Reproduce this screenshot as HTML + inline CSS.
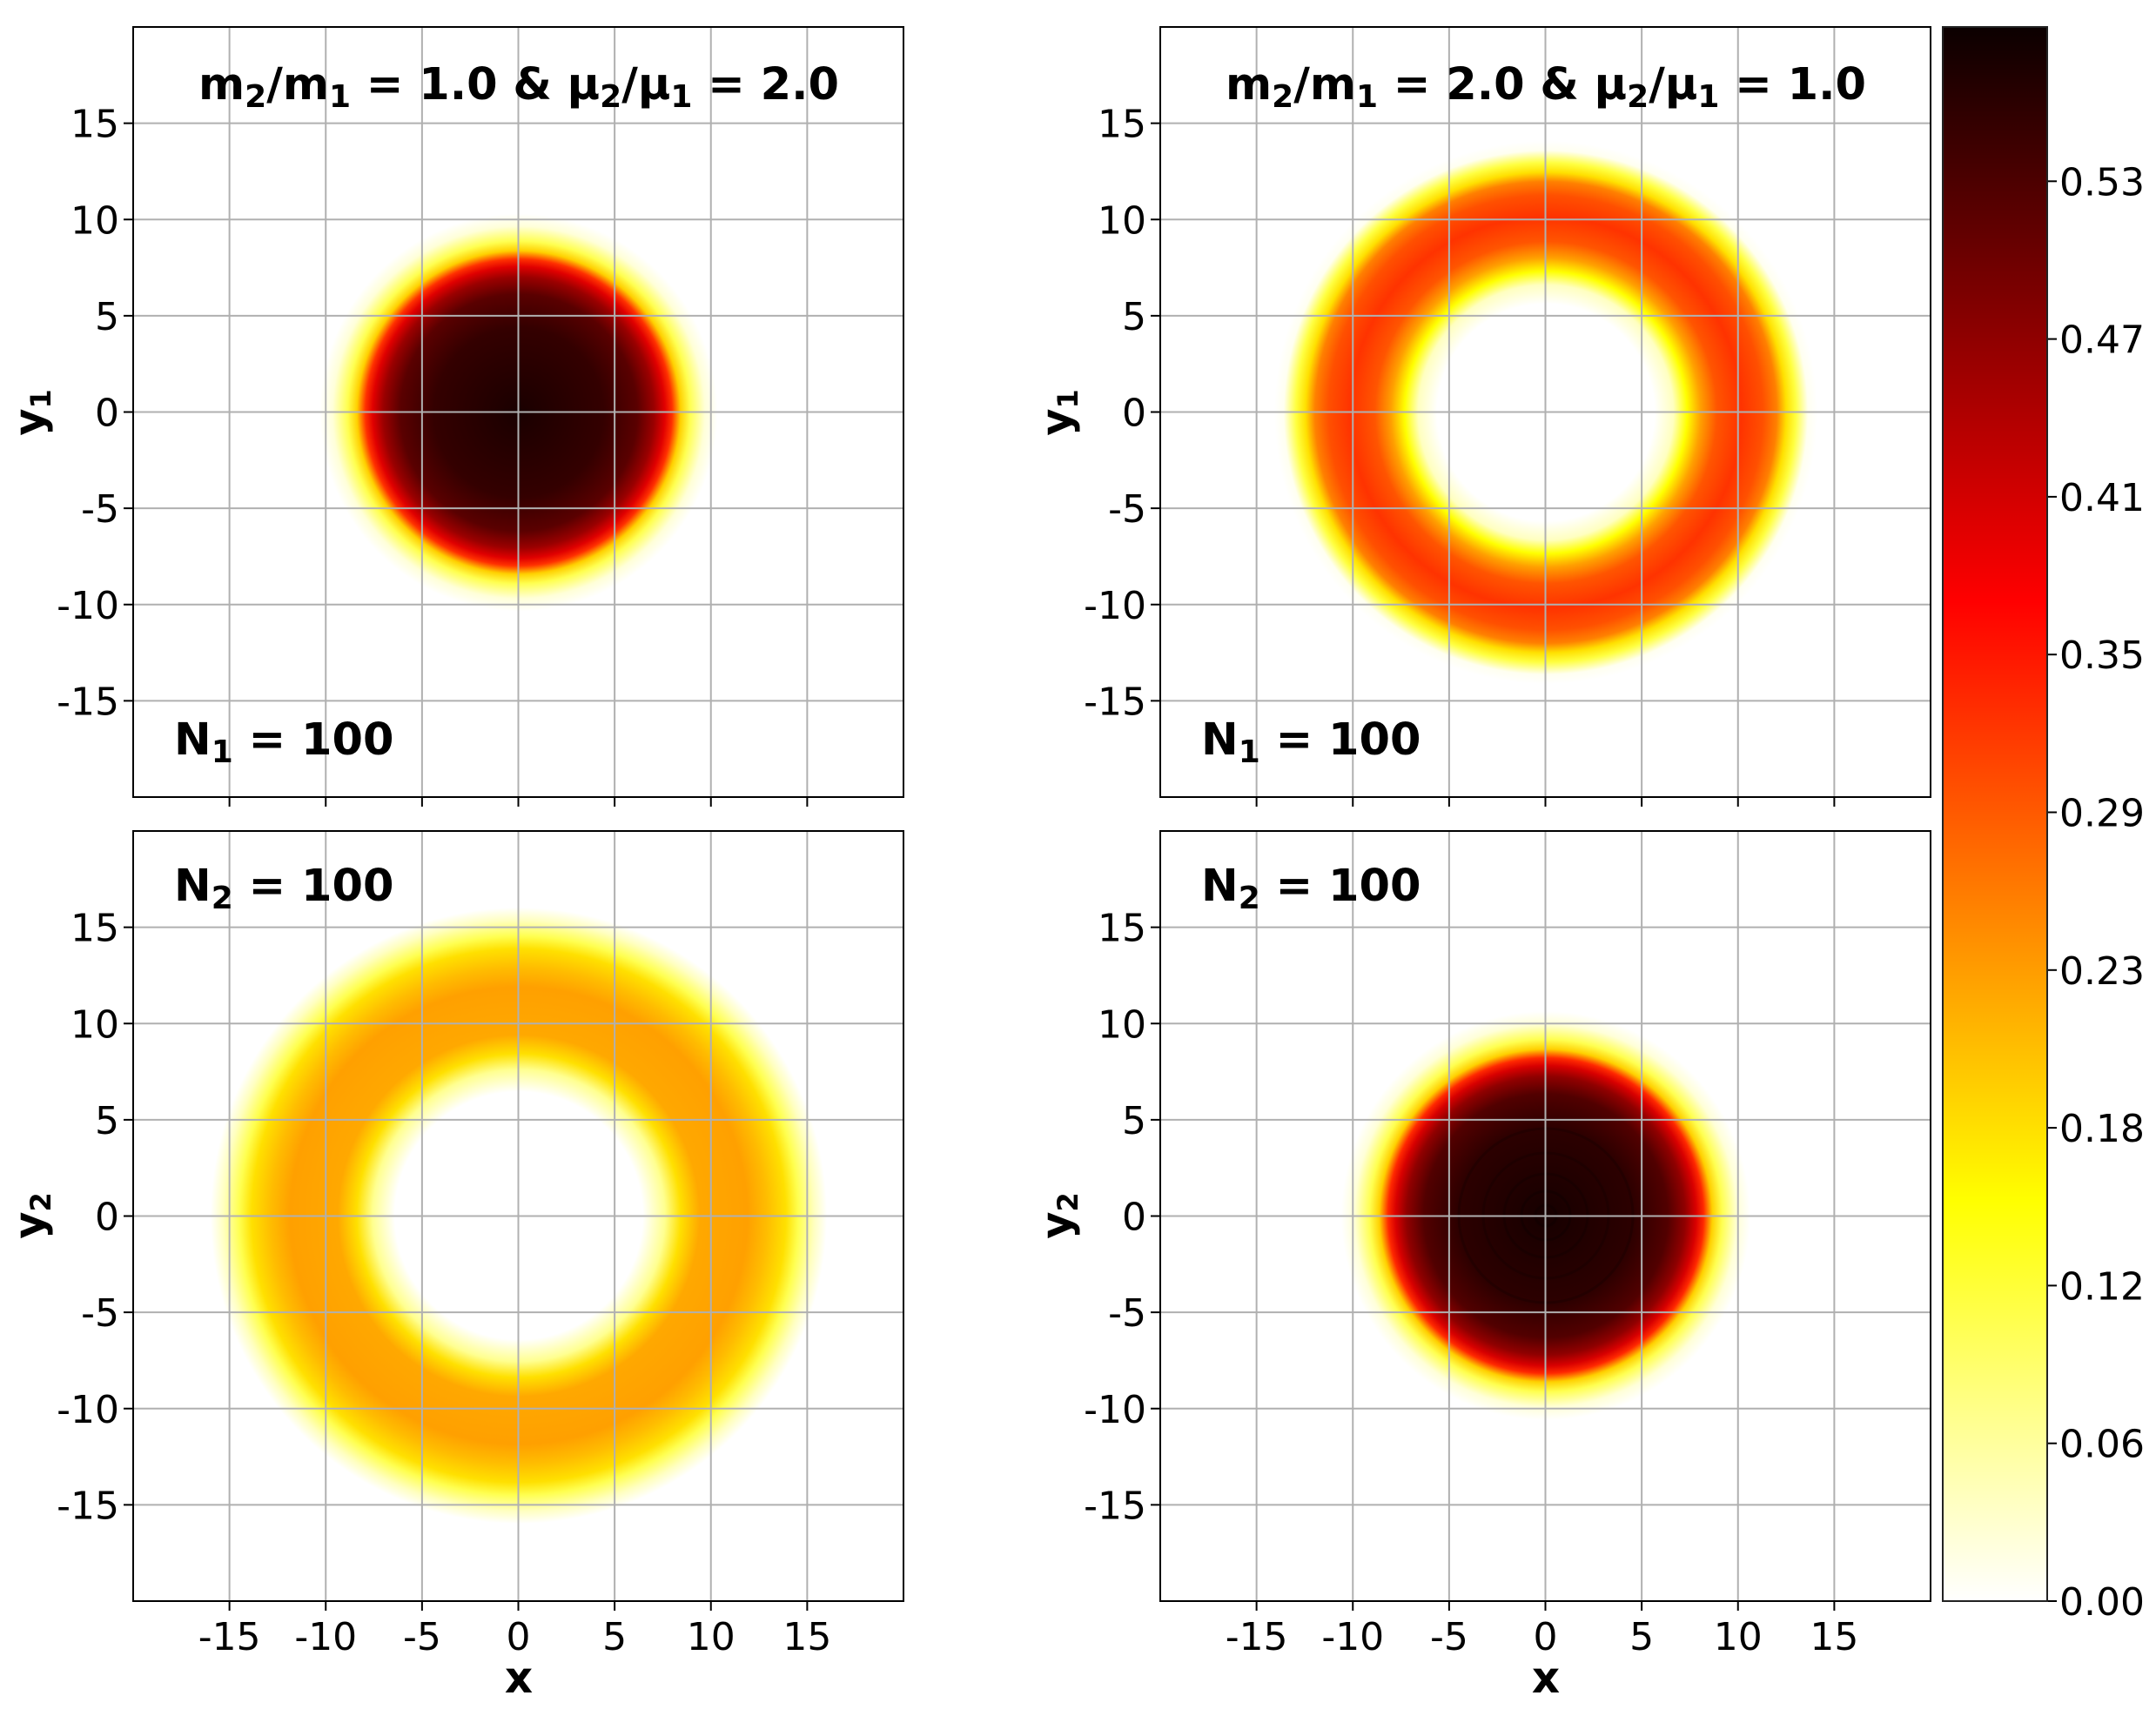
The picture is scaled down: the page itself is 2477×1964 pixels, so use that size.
<!DOCTYPE html>
<html><head><meta charset="utf-8"><style>
html,body{margin:0;padding:0;background:#fff}
svg text{font-family:"DejaVu Sans","Liberation Sans",sans-serif;fill:#000}
.t{font-size:44px}
.b{font-size:51px;font-weight:bold}
</style></head><body>
<svg width="2477" height="1959" viewBox="0 0 2477 1959" xmlns="http://www.w3.org/2000/svg">
<defs>
<radialGradient id="gTL" gradientUnits="userSpaceOnUse" cx="596" cy="474" r="243">
<stop offset="0" stop-color="#1a0000"/><stop offset="0.40" stop-color="#340000"/>
<stop offset="0.56" stop-color="#5a0000"/><stop offset="0.64" stop-color="#9a0000"/>
<stop offset="0.69" stop-color="#e00000"/><stop offset="0.725" stop-color="#ff3000"/>
<stop offset="0.765" stop-color="#ffd000"/><stop offset="0.81" stop-color="#ffff50"/>
<stop offset="0.88" stop-color="#ffffd8"/><stop offset="0.94" stop-color="#ffffff"/>
<stop offset="1" stop-color="#ffffff"/>
</radialGradient>
<radialGradient id="gBR" gradientUnits="userSpaceOnUse" cx="1776" cy="1397" r="250">
<stop offset="0" stop-color="#160000"/><stop offset="0.40" stop-color="#2c0000"/>
<stop offset="0.56" stop-color="#520000"/><stop offset="0.64" stop-color="#900000"/>
<stop offset="0.69" stop-color="#d80000"/><stop offset="0.725" stop-color="#ff2800"/>
<stop offset="0.765" stop-color="#ffd000"/><stop offset="0.81" stop-color="#ffff50"/>
<stop offset="0.88" stop-color="#ffffd8"/><stop offset="0.94" stop-color="#ffffff"/>
<stop offset="1" stop-color="#ffffff"/>
</radialGradient>
<radialGradient id="gTR" gradientUnits="userSpaceOnUse" cx="1776" cy="474" r="312">
<stop offset="0" stop-color="#ffffff"/><stop offset="0.40" stop-color="#ffffff"/>
<stop offset="0.47" stop-color="#ffffc0"/><stop offset="0.52" stop-color="#ffff00"/>
<stop offset="0.57" stop-color="#ffa000"/><stop offset="0.63" stop-color="#ff5500"/>
<stop offset="0.72" stop-color="#ff3300"/><stop offset="0.80" stop-color="#ff5000"/>
<stop offset="0.85" stop-color="#ff8000"/><stop offset="0.885" stop-color="#ffe000"/>
<stop offset="0.92" stop-color="#ffff40"/><stop offset="0.965" stop-color="#fffff0"/>
<stop offset="1" stop-color="#ffffff"/>
</radialGradient>
<radialGradient id="gBL" gradientUnits="userSpaceOnUse" cx="596" cy="1397" r="365">
<stop offset="0" stop-color="#ffffff"/><stop offset="0.39" stop-color="#ffffff"/>
<stop offset="0.46" stop-color="#ffff90"/><stop offset="0.51" stop-color="#ffe000"/>
<stop offset="0.57" stop-color="#ffa800"/><stop offset="0.72" stop-color="#ffa000"/>
<stop offset="0.78" stop-color="#ffbc00"/><stop offset="0.84" stop-color="#ffe000"/>
<stop offset="0.88" stop-color="#ffff50"/><stop offset="0.93" stop-color="#ffffc0"/>
<stop offset="0.97" stop-color="#ffffff"/><stop offset="1" stop-color="#ffffff"/>
</radialGradient>
<linearGradient id="cb" x1="0" y1="1" x2="0" y2="0">
<stop offset="0" stop-color="#ffffff"/><stop offset="0.13" stop-color="#ffff80"/>
<stop offset="0.254" stop-color="#ffff00"/><stop offset="0.49" stop-color="#ff6100"/>
<stop offset="0.635" stop-color="#ff0000"/><stop offset="1" stop-color="#0b0000"/>
</linearGradient>
<clipPath id="cBR"><rect x="1333" y="955" width="885" height="885"/></clipPath>
</defs>

<rect x="153" y="31" width="885" height="885" fill="url(#gTL)"/>
<rect x="1333" y="31" width="885" height="885" fill="url(#gTR)"/>
<rect x="153" y="955" width="885" height="885" fill="url(#gBL)"/>
<rect x="1333" y="955" width="885" height="885" fill="url(#gBR)"/>
<g clip-path="url(#cBR)" fill="none" stroke="#000" stroke-opacity="0.18" stroke-width="3">
<circle cx="1776" cy="1397" r="12"/><circle cx="1776" cy="1397" r="28"/><circle cx="1776" cy="1397" r="48"/><circle cx="1776" cy="1397" r="72"/><circle cx="1776" cy="1397" r="100"/>
</g>

<g id="grid" stroke="#b0b0b0" stroke-width="2">
</g>
<script>
(function(){
var u=22.125, ns="http://www.w3.org/2000/svg", svg=document.querySelector('svg');
var panels=[[153,31,true,false],[1333,31,true,false],[153,955,true,true],[1333,955,true,true]];
var g=document.getElementById('grid');
function el(n,a,p){var e=document.createElementNS(ns,n);for(var k in a)e.setAttribute(k,a[k]);(p||svg).appendChild(e);return e;}
var vals=[-15,-10,-5,0,5,10,15];
panels.forEach(function(p){
 var x0=p[0],y0=p[1],cx=x0+442.5,cy=y0+442.5;
 vals.forEach(function(v){
  var x=cx+v*u, y=cy-v*u;
  el('line',{x1:x,y1:y0,x2:x,y2:y0+885},g);
  el('line',{x1:x0,y1:y,x2:x0+885,y2:y},g);
  el('line',{x1:x,y1:y0+885,x2:x,y2:y0+896,stroke:'#000','stroke-width':2});
  el('line',{x1:x0,y1:y,x2:x0-11,y2:y,stroke:'#000','stroke-width':2});
  var t=el('text',{x:x0-16,y:y+16,'text-anchor':'end','class':'t'});t.textContent=String(v);
  if(p[3]){var t2=el('text',{x:x,y:y0+941,'text-anchor':'middle','class':'t'});t2.textContent=String(v);}
 });
 el('rect',{x:x0,y:y0,width:885,height:885,fill:'none',stroke:'#000','stroke-width':2});
});
var cbv=['0.00','0.06','0.12','0.18','0.23','0.29','0.35','0.41','0.47','0.53'];
cbv.forEach(function(s,i){var y=1840-i*181.3;
 el('line',{x1:2352,y1:y,x2:2363,y2:y,stroke:'#000','stroke-width':2});
 var t=el('text',{x:2366,y:y+16,'class':'t'});t.textContent=s;});
})();
</script>

<rect x="2232" y="31" width="120" height="1809" fill="url(#cb)" stroke="#222" stroke-width="2"/>

<text class="b" x="596" y="114" text-anchor="middle">m<tspan font-size="36" dy="9">2</tspan><tspan dy="-9">/m</tspan><tspan font-size="36" dy="9">1</tspan><tspan dy="-9"> = 1.0 &amp; μ</tspan><tspan font-size="36" dy="9">2</tspan><tspan dy="-9">/μ</tspan><tspan font-size="36" dy="9">1</tspan><tspan dy="-9"> = 2.0</tspan></text>
<text class="b" x="1776" y="114" text-anchor="middle">m<tspan font-size="36" dy="9">2</tspan><tspan dy="-9">/m</tspan><tspan font-size="36" dy="9">1</tspan><tspan dy="-9"> = 2.0 &amp; μ</tspan><tspan font-size="36" dy="9">2</tspan><tspan dy="-9">/μ</tspan><tspan font-size="36" dy="9">1</tspan><tspan dy="-9"> = 1.0</tspan></text>

<text class="b" x="200" y="867">N<tspan font-size="36" dy="9">1</tspan><tspan dy="-9"> = 100</tspan></text>
<text class="b" x="1380" y="867">N<tspan font-size="36" dy="9">1</tspan><tspan dy="-9"> = 100</tspan></text>
<text class="b" x="200" y="1035">N<tspan font-size="36" dy="9">2</tspan><tspan dy="-9"> = 100</tspan></text>
<text class="b" x="1380" y="1035">N<tspan font-size="36" dy="9">2</tspan><tspan dy="-9"> = 100</tspan></text>

<text class="b" transform="translate(50,474) rotate(-90)" text-anchor="middle" style="font-size:48px">y<tspan font-size="32" dy="8">1</tspan></text>
<text class="b" transform="translate(1230,474) rotate(-90)" text-anchor="middle" style="font-size:48px">y<tspan font-size="32" dy="8">1</tspan></text>
<text class="b" transform="translate(50,1397) rotate(-90)" text-anchor="middle" style="font-size:48px">y<tspan font-size="32" dy="8">2</tspan></text>
<text class="b" transform="translate(1230,1397) rotate(-90)" text-anchor="middle" style="font-size:48px">y<tspan font-size="32" dy="8">2</tspan></text>

<text class="b" x="596" y="1945" text-anchor="middle" style="font-size:50px">x</text>
<text class="b" x="1776" y="1945" text-anchor="middle" style="font-size:50px">x</text>
</svg>
</body></html>
